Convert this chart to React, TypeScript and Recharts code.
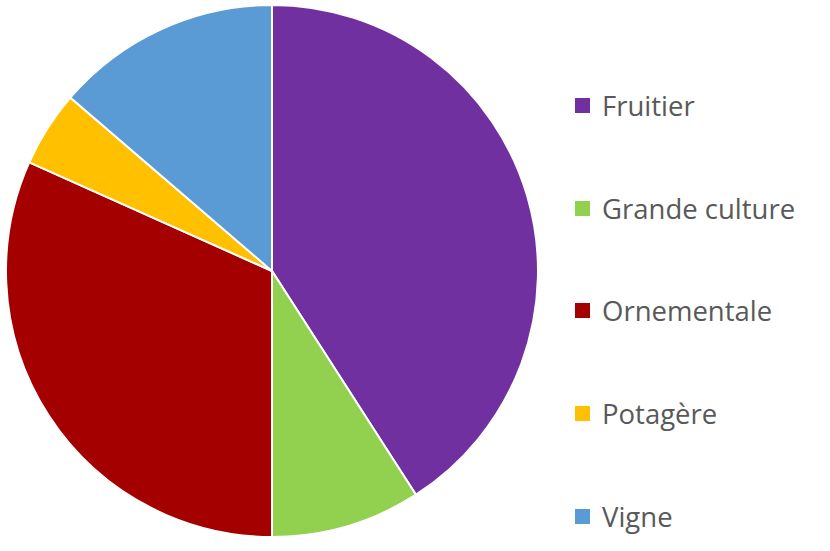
import React from 'react';
import { PieChart, Pie, Cell, Legend } from 'recharts';

const categories = ['Fruitier', 'Grande culture', 'Ornementale', 'Potagère', 'Vigne'];
const shares = [40.9, 9.1, 31.7, 4.6, 13.7];
const colors = ['#7030A0', '#92D050', '#A50000', '#FFC000', '#5B9BD5'];

const data = categories.map((name, i) => ({ name, value: shares[i] }));

const CustomLegend = () => (
  <ul style={{ listStyle: 'none', margin: 0, padding: 0, paddingTop: 54 }}>
    {categories.map((name, i) => (
      <li
        key={`item-${i}`}
        style={{ display: 'flex', alignItems: 'center', height: 102.75 }}
      >
        <span style={{ width: 15, height: 15, marginRight: 12, backgroundColor: colors[i], display: 'inline-block' }} />
        <span style={{ fontFamily: '"Open Sans", sans-serif', fontSize: 27.5, color: '#595959' }}>{name}</span>
      </li>
    ))}
  </ul>
);

export default function App() {
  return (
    <div style={{ position: 'absolute', left: 0, top: 0, width: 830, height: 551, background: '#fff' }}>
      <PieChart width={830} height={551} margin={{ top: 0, right: 0, bottom: 0, left: 0 }}>
        <Pie
          data={data}
          dataKey="value"
          nameKey="name"
          cx={272}
          cy={271}
          outerRadius={266}
          startAngle={90}
          endAngle={-270}
          stroke="#ffffff"
          strokeWidth={2}
          isAnimationActive={false}
        >
          {data.map((entry, index) => (
            <Cell key={`cell-${index}`} fill={colors[index]} />
          ))}
        </Pie>
        <Legend
          content={<CustomLegend />}
          layout="vertical"
          wrapperStyle={{ left: 575, top: 0, width: 250, height: 551 }}
        />
      </PieChart>
    </div>
  );
}
